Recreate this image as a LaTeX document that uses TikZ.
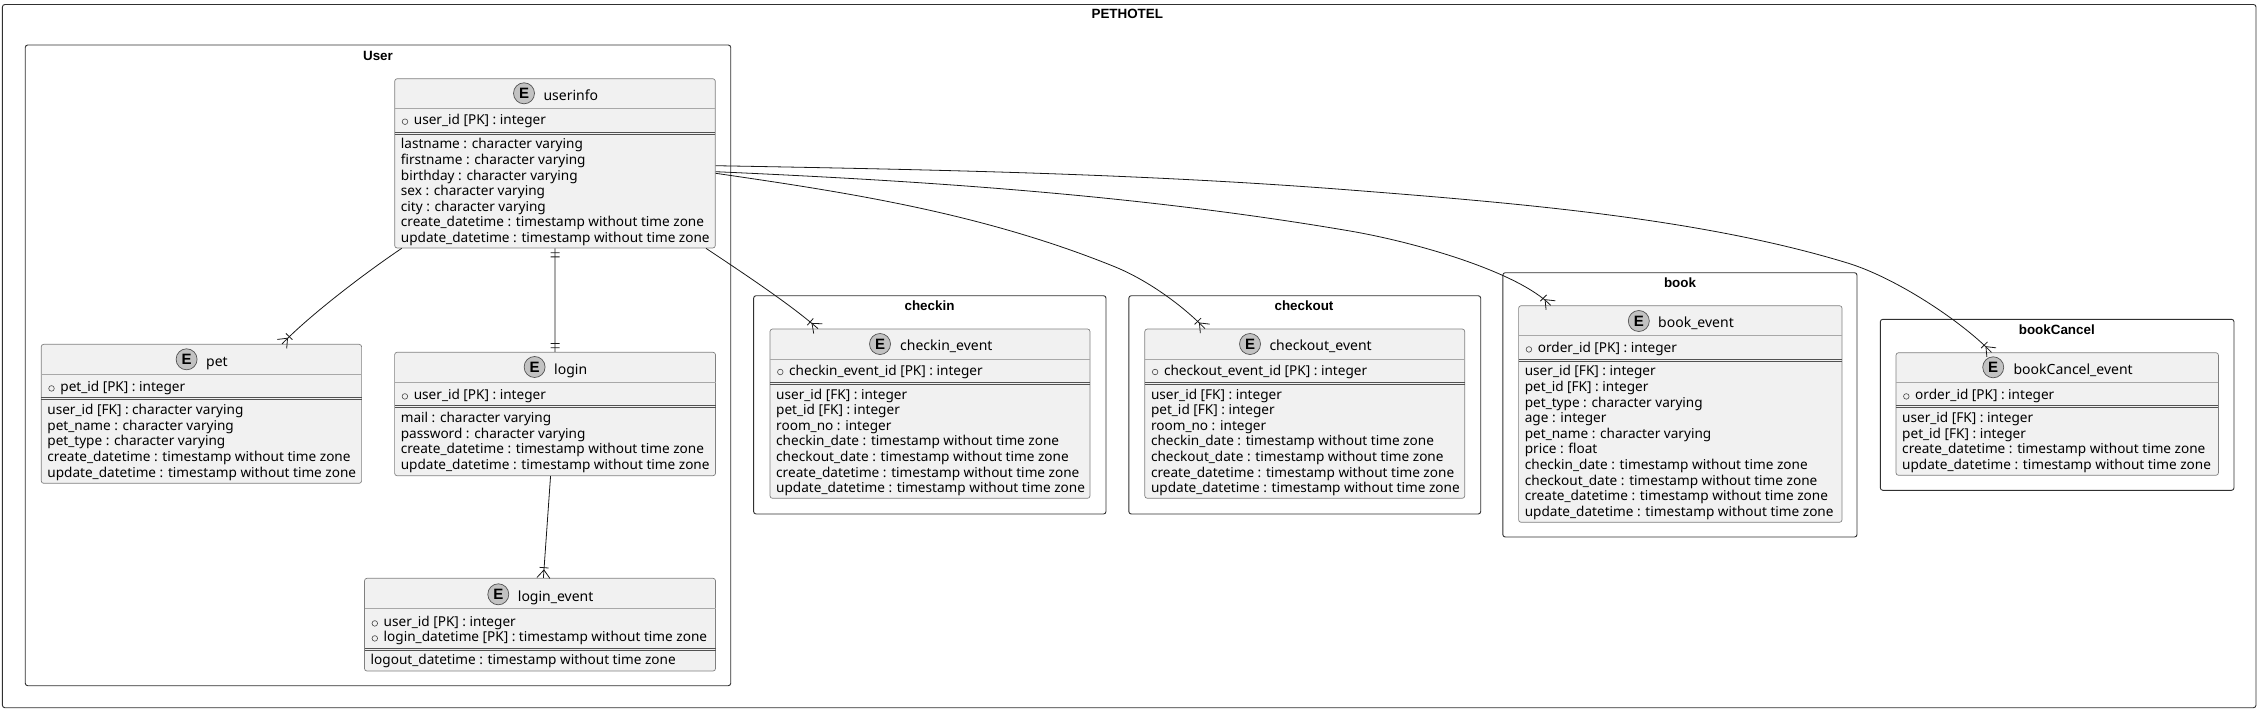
\documentclass[tikz,border=0pt]{standalone}
\usepackage{fontspec}
\setmainfont{Noto Sans}
\newfontfamily\grpfont{Liberation Sans}
\usetikzlibrary{arrows.meta}
\definecolor{lineC}{HTML}{181818}
\definecolor{grpC}{HTML}{303030}
\definecolor{entF}{HTML}{F1F1F1}
\definecolor{entB}{HTML}{808080}
\definecolor{divC}{HTML}{A8A8A8}
\definecolor{spotF}{HTML}{C2C2C2}
\pgfdeclarearrow{name=CrowBar,
  setup code={\pgfarrowssettipend{0pt}\pgfarrowssetlineend{0pt}\pgfarrowssetvisualtipend{0pt}\pgfarrowssetbackend{-11pt}\pgfarrowssetvisualbackend{-11pt}},
  drawing code={\pgfsetdash{}{0pt}\pgfsetlinewidth{0.8pt}
    \pgfpathmoveto{\pgfpoint{0pt}{6.5pt}}\pgfpathlineto{\pgfpoint{-8pt}{0pt}}\pgfpathlineto{\pgfpoint{0pt}{-6.5pt}}
    \pgfpathmoveto{\pgfpoint{-10.3pt}{4.5pt}}\pgfpathlineto{\pgfpoint{-10.3pt}{-4.5pt}}
    \pgfusepathqstroke}}
\pgfdeclarearrow{name=TwoBars,
  setup code={\pgfarrowssettipend{0pt}\pgfarrowssetlineend{0pt}\pgfarrowssetvisualtipend{0pt}\pgfarrowssetbackend{-9pt}\pgfarrowssetvisualbackend{-9pt}},
  drawing code={\pgfsetdash{}{0pt}\pgfsetlinewidth{0.8pt}
    \pgfpathmoveto{\pgfpoint{-4.3pt}{4.5pt}}\pgfpathlineto{\pgfpoint{-4.3pt}{-4.5pt}}
    \pgfpathmoveto{\pgfpoint{-8.5pt}{4.5pt}}\pgfpathlineto{\pgfpoint{-8.5pt}{-4.5pt}}
    \pgfusepathqstroke}}
\tikzset{
  grpbox/.style={draw=grpC,line width=0.9pt,rounded corners=2.5pt,inner sep=0pt},
  grplabel/.style={inner sep=0pt,font=\grpfont\bfseries\fontsize{13.4}{15}\selectfont,text=black},
  entbox/.style={draw=entB,fill=entF,line width=0.7pt,rounded corners=2.5pt,inner sep=0pt},
  spot/.style={circle,draw=lineC!75!white,fill=spotF,line width=0.7pt,minimum size=21pt,inner sep=0pt,font=\grpfont\bfseries\fontsize{15}{15}\selectfont},
  enttitle/.style={anchor=base west,inner sep=0pt,font=\fontsize{14}{16}\selectfont},
  rowtext/.style={anchor=base west,inner sep=0pt,font=\fontsize{13.6}{15}\selectfont},
  pkmark/.style={circle,draw=lineC!80!white,line width=0.6pt,minimum size=5.6pt,inner sep=0pt},
  rel/.style={draw=lineC,line width=0.8pt},
}
\newcount\rowno
\newcommand{\entity}[9]{%name x1 y1 x2 y2 div dbl spotx spoty
  \node[entbox,minimum width={#4-#2},minimum height={#5-#3}] (#1) at ({(#2+#4)/2},{(#3+#5)/2}) {};
  \draw[divC,line width=0.7pt] ({#2},{#6}) -- ({#4},{#6});
  \draw[lineC!75!white,line width=0.7pt] ({#2},{#7-1}) -- ({#4},{#7-1});
  \draw[lineC!75!white,line width=0.7pt] ({#2},{#7+1}) -- ({#4},{#7+1});
  \node[spot] (#1-spot) at ({#8},{#9}) {E};
}
\newcommand{\etitle}[3]{\global\advance\rowno by 1 \node[enttitle] (row\the\rowno) at ({#1},{#2+5}) {#3};}
\newcommand{\pk}[3]{\global\advance\rowno by 1
  \node[pkmark] (row\the\rowno m) at ({#1+10.3},{#2+1.7}) {};
  \node[rowtext] (row\the\rowno) at ({#1+19},{#2+4.7}) {#3};}
\newcommand{\fld}[3]{\global\advance\rowno by 1 \node[rowtext] (row\the\rowno) at ({#1+6},{#2+4.7}) {#3};}
\begin{document}
\begin{tikzpicture}[x=1pt,y=-1pt]
\useasboundingbox (0,0) rectangle (2258,710);
% groups
\node[grpbox,minimum width=2253.6pt,minimum height=703.2pt] (PETHOTEL) at (1129.2,356.1) {};
\node[grplabel] (PETHOTELl) at (1127.3,14) {PETHOTEL};
\node[grpbox,minimum width=705.5pt,minimum height=640.7pt] (User) at (378,365.35) {};
\node[grplabel] (Userl) at (378,55.7) {User};
\node[grpbox,minimum width=352.4pt,minimum height=218.3pt] (checkin) at (929.8,404.85) {};
\node[grplabel] (checkinl) at (929.5,305.3) {checkin};
\node[grpbox,minimum width=351.9pt,minimum height=218.3pt] (checkout) at (1304.75,404.85) {};
\node[grplabel] (checkoutl) at (1304,305.3) {checkout};
\node[grpbox,minimum width=354.2pt,minimum height=264.3pt] (book) at (1679.9,404.85) {};
\node[grplabel] (bookl) at (1680,282.7) {book};
\node[grpbox,minimum width=353.7pt,minimum height=171pt] (bookCancel) at (2057.15,404.8) {};
\node[grplabel] (bookCancell) at (2056.8,329.3) {bookCancel};
% userinfo
\entity{userinfo}{394.7}{78.7}{715.3}{248}{108.3}{133.2}{524}{93.3}
\etitle{543.3}{95}{userinfo}
\pk{394.7}{120}{user\_id [PK] : integer}
\fld{394.7}{143.7}{lastname : character varying}
\fld{394.7}{159.5}{firstname : character varying}
\fld{394.7}{175.5}{birthday : character varying}
\fld{394.7}{190.5}{sex : character varying}
\fld{394.7}{206.5}{city : character varying}
\fld{394.7}{221.5}{create\_datetime : timestamp without time zone}
\fld{394.7}{237.5}{update\_datetime : timestamp without time zone}
% pet
\entity{pet}{41.2}{344.3}{361.6}{483.3}{374.3}{398.5}{186.6}{359.3}
\etitle{206}{361}{pet}
\pk{41.2}{386.7}{pet\_id [PK] : integer}
\fld{41.2}{409.3}{user\_id [FK] : character varying}
\fld{41.2}{425.7}{pet\_name : character varying}
\fld{41.2}{441}{pet\_type : character varying}
\fld{41.2}{456.7}{create\_datetime : timestamp without time zone}
\fld{41.2}{472.7}{update\_datetime : timestamp without time zone}
% login
\entity{login}{394.6}{352.3}{715.5}{475.7}{382.3}{406.5}{534.6}{367}
\etitle{554}{369}{login}
\pk{394.6}{394.7}{user\_id [PK] : integer}
\fld{394.6}{417.7}{mail : character varying}
\fld{394.6}{433.7}{password : character varying}
\fld{394.6}{448.7}{create\_datetime : timestamp without time zone}
\fld{394.6}{464.7}{update\_datetime : timestamp without time zone}
% login_event
\entity{loginevent}{364.5}{578.3}{715.5}{671}{608.7}{649}{498.3}{594.3}
\etitle{517.7}{596}{login\_event}
\pk{364.5}{621.7}{user\_id [PK] : integer}
\pk{364.5}{636.7}{login\_datetime [PK] : timestamp without time zone}
\fld{364.5}{659.7}{logout\_datetime : timestamp without time zone}
% checkin_event
\entity{checkinevent}{770}{329}{1090}{498.3}{359}{383}{880}{344}
\etitle{900}{345.7}{checkin\_event}
\pk{770}{370.3}{checkin\_event\_id [PK] : integer}
\fld{770}{394.7}{user\_id [FK] : integer}
\fld{770}{409.7}{pet\_id [FK] : integer}
\fld{770}{425.7}{room\_no : integer}
\fld{770}{440.7}{checkin\_date : timestamp without time zone}
\fld{770}{456.7}{checkout\_date : timestamp without time zone}
\fld{770}{472.7}{create\_datetime : timestamp without time zone}
\fld{770}{487.7}{update\_datetime : timestamp without time zone}
% checkout_event
\entity{checkoutevent}{1144.8}{329}{1464.7}{498.3}{359}{383}{1250}{344}
\etitle{1269.3}{345.7}{checkout\_event}
\pk{1144.8}{370.3}{checkout\_event\_id [PK] : integer}
\fld{1144.8}{394.7}{user\_id [FK] : integer}
\fld{1144.8}{409.7}{pet\_id [FK] : integer}
\fld{1144.8}{425.7}{room\_no : integer}
\fld{1144.8}{440.7}{checkin\_date : timestamp without time zone}
\fld{1144.8}{456.7}{checkout\_date : timestamp without time zone}
\fld{1144.8}{472.7}{create\_datetime : timestamp without time zone}
\fld{1144.8}{487.7}{update\_datetime : timestamp without time zone}
% book_event
\entity{bookevent}{1518.6}{305.7}{1842}{522.3}{335.7}{360}{1638.8}{321}
\etitle{1658}{322.7}{book\_event}
\pk{1518.6}{347.7}{order\_id [PK] : integer}
\fld{1518.6}{370.7}{user\_id [FK] : integer}
\fld{1518.6}{386.7}{pet\_id [FK] : integer}
\fld{1518.6}{402.7}{pet\_type : character varying}
\fld{1518.6}{417.7}{age : integer}
\fld{1518.6}{433.7}{pet\_name : character varying}
\fld{1518.6}{448.7}{price : float}
\fld{1518.6}{464.7}{checkin\_date : timestamp without time zone}
\fld{1518.6}{480.7}{checkout\_date : timestamp without time zone}
\fld{1518.6}{495.7}{create\_datetime : timestamp without time zone}
\fld{1518.6}{511.7}{update\_datetime : timestamp without time zone}
% bookCancel_event
\entity{bookcancelevent}{1896}{352.7}{2218.4}{475.3}{382.3}{406.5}{1993.2}{367.3}
\etitle{2013.4}{369}{bookCancel\_event}
\pk{1896}{394.7}{order\_id [PK] : integer}
\fld{1896}{417.7}{user\_id [FK] : integer}
\fld{1896}{433.7}{pet\_id [FK] : integer}
\fld{1896}{448.7}{create\_datetime : timestamp without time zone}
\fld{1896}{464.7}{update\_datetime : timestamp without time zone}
% relations
\draw[rel,-{CrowBar}] ([xshift=-153.3pt]userinfo.south) .. controls (365,273) and (310,315) .. ([xshift=80.6pt]pet.north);
\draw[rel,{TwoBars}-{TwoBars}] (userinfo.south) -- (login.north);
\draw[rel,-{CrowBar}] ([xshift=-4.5pt]login.south) -- ([xshift=3.4pt]loginevent.north);
\draw[rel,-{CrowBar}] ([xshift=151pt]userinfo.south) .. controls (740,271) and (790,304) .. ([xshift=-112pt]checkinevent.north);
\draw[rel,-{CrowBar}] ([yshift=-9.95pt]userinfo.east) .. controls (848,192.5) and (982,213) .. (1114.6,266.7) .. controls (1145,279) and (1180,303) .. ([xshift=-99.75pt]checkoutevent.north);
\draw[rel,-{CrowBar}] ([yshift=-8.35pt]userinfo.east) .. controls (926,181) and (1139,195) .. (1350,231) .. controls (1417,242.5) and (1518,272) .. ([xshift=-129.6pt]bookevent.north);
\draw[rel,-{CrowBar}] ([yshift=-2.35pt]userinfo.east) .. controls (926,169.5) and (1139,173.5) .. (1350,190) .. controls (1516,203) and (1700,218) .. (1847.5,263) .. controls (1895,277.5) and (1960,320) .. ([xshift=-65.7pt]bookcancelevent.north);
\end{tikzpicture}
\end{document}
